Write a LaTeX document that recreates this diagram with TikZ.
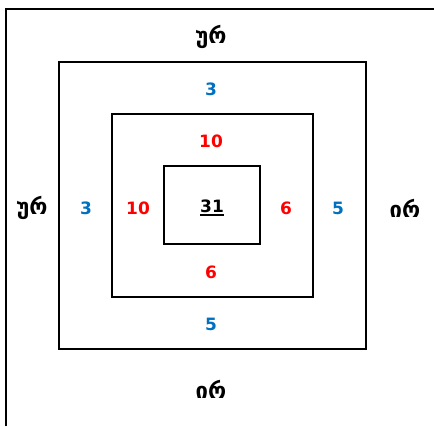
\documentclass[tikz,border=0pt]{standalone}
\usepackage{fontspec}
\setmainfont{DejaVu Sans}
\newfontfamily\geofont[Script=Georgian]{DejaVu Sans}
\usetikzlibrary{positioning}
\definecolor{numblue}{HTML}{0070C0}
\definecolor{numred}{HTML}{FF0000}
\tikzset{
  sq/.style={rectangle,draw=black,line width=1.6pt,inner sep=0pt},
  geo/.style={font=\geofont\fontsize{22}{26}\selectfont\bfseries},
  bl/.style={text=numblue,font=\fontsize{17}{20}\selectfont\bfseries},
  rd/.style={text=numred,font=\fontsize{17}{20}\selectfont\bfseries},
}
\begin{document}
\begin{tikzpicture}[x=1pt,y=1pt]
  \useasboundingbox (0,0) rectangle (434,-426);
  % frame
  \coordinate (fbl) at (6,-426);
  \coordinate (ftl) at (6,-9);
  \coordinate (ftr) at (434,-9);
  \draw[line width=1.6pt] (fbl) -- (ftl) -- (ftr);
  % squares
  \node[sq,minimum width=307pt,minimum height=287pt] (outer) at (212.5,-205.5) {};
  \node[sq,minimum width=201pt,minimum height=183pt] (mid)   at (212.5,-205.5) {};
  \node[sq,minimum width=96pt,minimum height=78pt]   (inner) at (212,-205) {};
  \node[inner sep=0pt,font=\fontsize{17}{20}\selectfont\bfseries] (ctr) at (212,-206) {31};
  \draw[line width=1.6pt] ([yshift=-3pt]ctr.base west) -- ([yshift=-3pt]ctr.base east);
  % georgian labels
  \node[geo] (gtop) at (211,-37)  {ურ};
  \node[geo] (glft) at (32,-208)  {ურ};
  \node[geo] (grgt) at (405,-208) {ირ};
  \node[geo] (gbot) at (211,-389) {ირ};
  % outer ring
  \node[bl] (btop) at (211,-89)  {3};
  \node[bl] (blft) at (86,-208)  {3};
  \node[bl] (brgt) at (338,-208) {5};
  \node[bl] (bbot) at (211,-324) {5};
  % middle ring
  \node[rd] (rtop) at (211,-141) {10};
  \node[rd] (rlft) at (138,-208) {10};
  \node[rd] (rrgt) at (286,-208) {6};
  \node[rd] (rbot) at (211,-272) {6};
\end{tikzpicture}
\end{document}
